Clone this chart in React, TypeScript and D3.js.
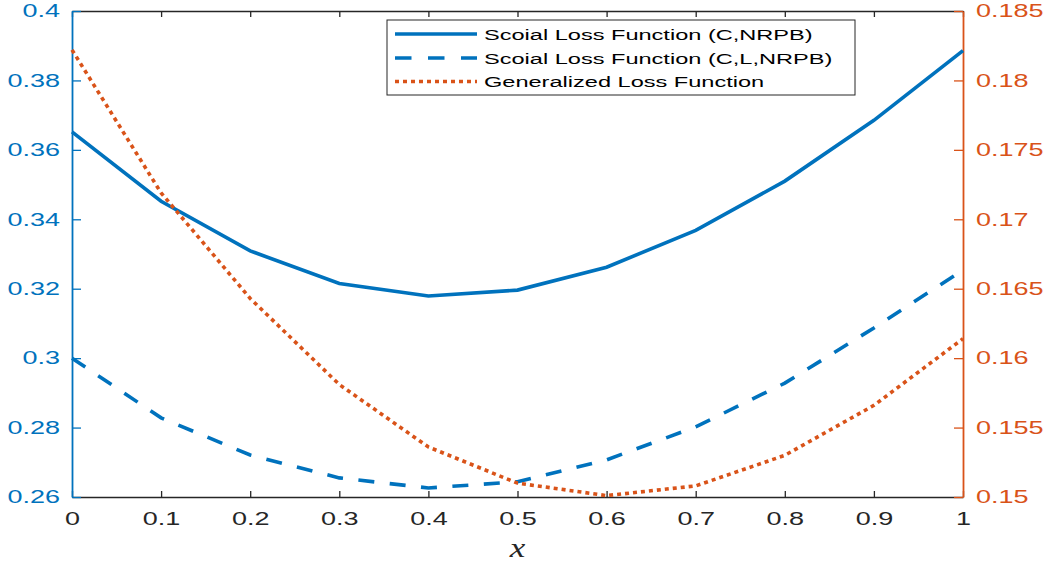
import React, { useEffect, useRef } from 'react';
import * as d3 from 'd3';

// values
const xValues = [0, 0.1, 0.2, 0.3, 0.4, 0.5, 0.6, 0.7, 0.8, 0.9, 1];
const socialLossCNRPB = [0.3652, 0.3452, 0.3309, 0.3215, 0.3179, 0.3196, 0.3262, 0.3368, 0.3510, 0.3685, 0.3886];
const socialLossCLNRPB = [0.3000, 0.2828, 0.2721, 0.2655, 0.2626, 0.2644, 0.2707, 0.2802, 0.2928, 0.3087, 0.3254];
const generalizedLoss = [0.1822, 0.1719, 0.1643, 0.1581, 0.1536, 0.1510, 0.1501, 0.1508, 0.1530, 0.1566, 0.1614];

const xTicks = [0, 0.1, 0.2, 0.3, 0.4, 0.5, 0.6, 0.7, 0.8, 0.9, 1];
const leftTicks = [0.26, 0.28, 0.3, 0.32, 0.34, 0.36, 0.38, 0.4];
const rightTicks = [0.15, 0.155, 0.16, 0.165, 0.17, 0.175, 0.18, 0.185];

const legendLabels = [
    'Scoial Loss Function (C,NRPB)',
    'Scoial Loss Function (C,L,NRPB)',
    'Generalized Loss Function',
];

const BLUE = '#0072BD';
const ORANGE = '#D95319';
const DARK = '#262626';
const FONT = 'Liberation Sans, Arial, Helvetica, sans-serif';
// the reference's text is stretched sideways
const SX = 1.5;

export default function App() {
    const ref = useRef<SVGSVGElement>(null);

    useEffect(() => {
        const svg = d3.select(ref.current);
        svg.selectAll('*').remove();

        const left = 72, right = 963, top = 11, bottom = 497;

        const x = d3.scaleLinear().domain([0, 1]).range([left, right]);
        const yL = d3.scaleLinear().domain([0.26, 0.4]).range([bottom, top]);
        const yR = d3.scaleLinear().domain([0.15, 0.185]).range([bottom, top]);
        const fmt = (d: any) => d3.format('~g')(d as number);

        svg.append('rect').attr('width', 1046).attr('height', 562).attr('fill', '#fff');

        // bottom axis
        const xAxis = svg.append('g')
            .attr('transform', `translate(0,${bottom})`)
            .call(d3.axisBottom(x).tickValues(xTicks).tickSizeInner(-6).tickSizeOuter(0).tickPadding(15).tickFormat(fmt));
        xAxis.select('.domain').attr('stroke', DARK).attr('stroke-width', 1.3);
        xAxis.selectAll('.tick line').attr('stroke', DARK).attr('stroke-width', 1.3);
        xAxis.selectAll('.tick text')
            .attr('fill', DARK).attr('font-size', 18).attr('font-family', FONT)
            .attr('transform', `scale(${SX},1)`);

        // top axis (box)
        const topAxis = svg.append('g')
            .attr('transform', `translate(0,${top})`)
            .call(d3.axisTop(x).tickValues(xTicks).tickSizeInner(-6).tickSizeOuter(0).tickFormat(() => ''));
        topAxis.select('.domain').attr('stroke', DARK).attr('stroke-width', 1.3);
        topAxis.selectAll('.tick line').attr('stroke', DARK).attr('stroke-width', 1.3);

        // left axis
        const leftAxis = svg.append('g')
            .attr('transform', `translate(${left},0)`)
            .call(d3.axisLeft(yL).tickValues(leftTicks).tickSizeInner(-9).tickSizeOuter(0).tickFormat(fmt));
        leftAxis.select('.domain').attr('stroke', BLUE).attr('stroke-width', 1.8);
        leftAxis.selectAll('.tick line').attr('stroke', BLUE).attr('stroke-width', 1.3);
        leftAxis.selectAll('.tick text')
            .attr('fill', BLUE).attr('font-size', 18).attr('font-family', FONT)
            .attr('x', -12 / SX)
            .attr('transform', `scale(${SX},1)`);

        // right axis
        const rightAxis = svg.append('g')
            .attr('transform', `translate(${right},0)`)
            .call(d3.axisRight(yR).tickValues(rightTicks).tickSizeInner(-9).tickSizeOuter(0).tickFormat(fmt));
        rightAxis.select('.domain').attr('stroke', ORANGE).attr('stroke-width', 1.8);
        rightAxis.selectAll('.tick line').attr('stroke', ORANGE).attr('stroke-width', 1.3);
        rightAxis.selectAll('.tick text')
            .attr('fill', ORANGE).attr('font-size', 18).attr('font-family', FONT)
            .attr('x', 13 / SX)
            .attr('transform', `scale(${SX},1)`);

        // x label
        svg.append('text')
            .attr('transform', `translate(${(left + right) / 2},557) scale(1.3,1)`)
            .attr('text-anchor', 'middle')
            .attr('font-family', 'Liberation Serif, DejaVu Serif, serif')
            .attr('font-style', 'italic')
            .attr('font-size', 27)
            .attr('fill', DARK)
            .text('x');

        const lineL = d3.line<number>().x((_, i) => x(xValues[i])).y(d => yL(d));
        const lineR = d3.line<number>().x((_, i) => x(xValues[i])).y(d => yR(d));

        const series = [
            { path: lineL(socialLossCNRPB), color: BLUE, dash: null },
            { path: lineL(socialLossCLNRPB), color: BLUE, dash: '16 15.5' },
            { path: lineR(generalizedLoss), color: ORANGE, dash: '4 4' },
        ];

        series.forEach(s => {
            svg.append('path')
                .attr('d', s.path)
                .attr('fill', 'none')
                .attr('stroke', s.color)
                .attr('stroke-width', 3.6)
                .attr('stroke-dasharray', s.dash);
        });

        // legend
        const legend = svg.append('g');
        legend.append('rect')
            .attr('x', 387).attr('y', 20).attr('width', 468).attr('height', 75)
            .attr('fill', '#fff').attr('stroke', DARK).attr('stroke-width', 1);
        const rowY = [34, 58, 81.5];
        series.forEach((s, i) => {
            legend.append('line')
                .attr('x1', 395).attr('x2', 477)
                .attr('y1', rowY[i]).attr('y2', rowY[i])
                .attr('stroke', s.color)
                .attr('stroke-width', 3.6)
                .attr('stroke-dasharray', i === 1 ? '16.5 16.5' : s.dash);
            legend.append('text')
                .attr('transform', `translate(484,${rowY[i] + 5.5}) scale(1.52,1)`)
                .attr('font-family', FONT)
                .attr('font-size', 15.5)
                .attr('fill', '#000')
                .text(legendLabels[i]);
        });
    }, []);

    return (
        <svg
            ref={ref}
            width={1046}
            height={562}
            style={{ position: 'absolute', left: 0, top: 0, display: 'block' }}
        />
    );
}
